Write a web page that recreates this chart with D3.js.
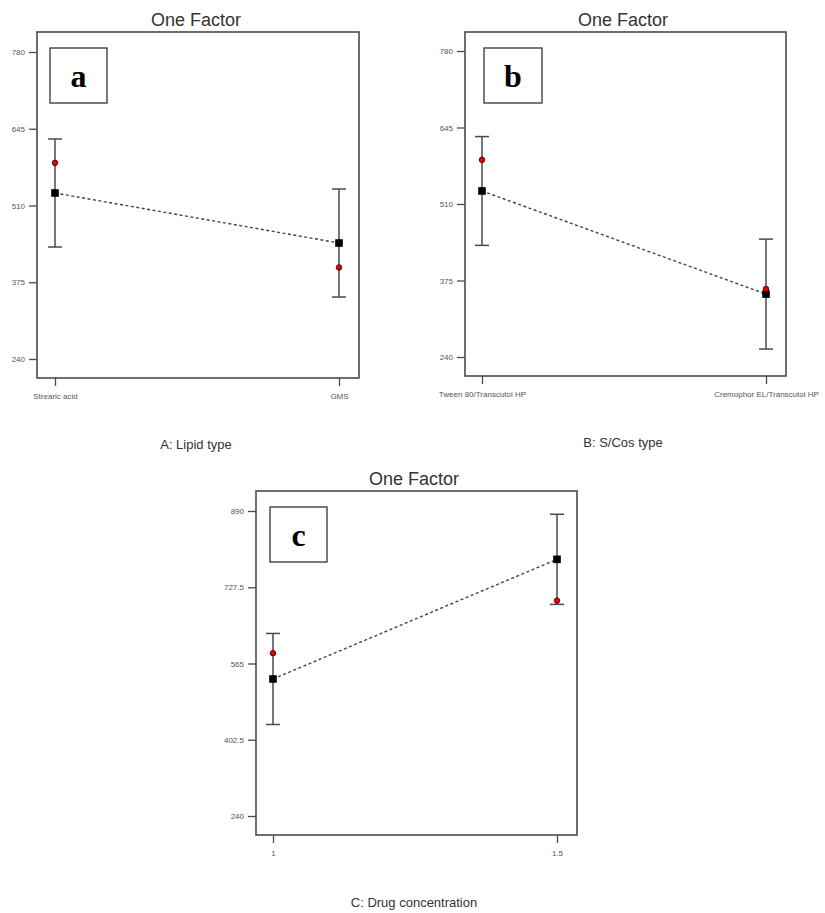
<!DOCTYPE html>
<html>
<head>
<meta charset="utf-8">
<script src="https://cdn.jsdelivr.net/npm/d3@7"></script>
<style>
  html, body { margin: 0; padding: 0; background: #fff; }
  svg { display: block; }
  .tick-label { font-family: "Liberation Sans", Arial, sans-serif; font-size: 8px; fill: #555; }
  .title { font-family: "Liberation Sans", Arial, sans-serif; font-size: 18px; fill: #333; }
  .axis-title { font-family: "Liberation Sans", Arial, sans-serif; font-size: 13px; fill: #333; }
  .panel-letter { font-family: "Liberation Serif", "Times New Roman", serif; font-size: 32px; font-weight: bold; fill: #000; }
</style>
</head>
<body>
<svg id="chart" width="825" height="913"></svg>
<script>
// One-factor effect plots: predicted mean (black square) with LSD bars,
// design point (red dot), for each of the three factors.

const titleText = "One Factor";

// A: Lipid type
const lipidCategories = ["Strearic acid", "GMS"];
const lipidPredicted = [532, 444];
const lipidActual = [585, 401];
const lipidHalfBar = [95, 95];
const lipidTicks = [240, 375, 510, 645, 780];

// B: S/Cos type
const scosCategories = ["Tween 80/Transcutol HP", "Cremophor EL/Transcutol HP"];
const scosPredicted = [533, 351];
const scosActual = [588, 360];
const scosHalfBar = [96, 97];
const scosTicks = [240, 375, 510, 645, 780];

// C: Drug concentration
const drugCategories = ["1", "1.5"];
const drugPredicted = [532, 787];
const drugActual = [587, 699];
const drugHalfBar = [97, 96];
const drugTicks = [240, 402.5, 565, 727.5, 890];

const panels = [
  { letter: "a", axisTitle: "A: Lipid type",
    cats: lipidCategories, pred: lipidPredicted, act: lipidActual, half: lipidHalfBar, ticks: lipidTicks,
    frame: { x0: 37, x1: 359, y0: 32, y1: 378 }, yRange: [359, 52], xRange: [55, 339],
    titleX: 196, titleY: 26, axisTitleY: 449, box: { x: 50, y: 48, w: 57, h: 55 } },
  { letter: "b", axisTitle: "B: S/Cos type",
    cats: scosCategories, pred: scosPredicted, act: scosActual, half: scosHalfBar, ticks: scosTicks,
    frame: { x0: 465, x1: 786, y0: 32, y1: 376 }, yRange: [357, 51], xRange: [482, 766],
    titleX: 623, titleY: 26, axisTitleY: 447, box: { x: 484, y: 48, w: 58, h: 55 } },
  { letter: "c", axisTitle: "C: Drug concentration",
    cats: drugCategories, pred: drugPredicted, act: drugActual, half: drugHalfBar, ticks: drugTicks,
    frame: { x0: 256, x1: 577, y0: 491, y1: 835 }, yRange: [816, 511], xRange: [273, 557],
    titleX: 414, titleY: 485, axisTitleY: 907, box: { x: 270, y: 507, w: 57, h: 55 } }
];

const svg = d3.select("#chart");
const ink = "#4a4a4a";

panels.forEach(p => {
  const g = svg.append("g");
  const y = d3.scaleLinear()
    .domain([p.ticks[0], p.ticks[p.ticks.length - 1]])
    .range(p.yRange);
  const x = d3.scalePoint().domain(p.cats).range(p.xRange);

  // Title
  g.append("text").attr("class", "title")
    .attr("x", p.titleX).attr("y", p.titleY)
    .attr("text-anchor", "middle").text(titleText);

  // Y axis on the frame's left edge
  const yAxis = d3.axisLeft(y).tickValues(p.ticks).tickSize(8).tickPadding(4)
    .tickFormat(d => String(d));
  const ya = g.append("g").attr("transform", `translate(${p.frame.x0},0)`).call(yAxis);
  ya.select(".domain").remove();
  ya.selectAll(".tick line").attr("stroke", ink).attr("stroke-width", 1.3);
  ya.selectAll(".tick text").attr("class", "tick-label").attr("fill", null)
    .attr("font-size", null).attr("font-family", null);

  // X axis below the frame's bottom edge
  const xAxis = d3.axisBottom(x).tickSize(8).tickPadding(6);
  const xa = g.append("g").attr("transform", `translate(0,${p.frame.y1})`).call(xAxis);
  xa.select(".domain").remove();
  xa.selectAll(".tick line").attr("stroke", ink).attr("stroke-width", 1.3);
  xa.selectAll(".tick text").attr("class", "tick-label").attr("fill", null)
    .attr("font-size", null).attr("font-family", null).attr("dy", "0.9em");

  // Frame
  g.append("rect")
    .attr("x", p.frame.x0).attr("y", p.frame.y0)
    .attr("width", p.frame.x1 - p.frame.x0).attr("height", p.frame.y1 - p.frame.y0)
    .attr("fill", "none").attr("stroke", ink).attr("stroke-width", 1.6);

  // Panel letter box
  g.append("rect")
    .attr("x", p.box.x).attr("y", p.box.y).attr("width", p.box.w).attr("height", p.box.h)
    .attr("fill", "#fff").attr("stroke", "#333").attr("stroke-width", 1.3);
  g.append("text").attr("class", "panel-letter")
    .attr("x", p.box.x + p.box.w / 2).attr("y", p.box.y + p.box.h / 2 + 11)
    .attr("text-anchor", "middle").text(p.letter);

  const rows = p.cats.map((c, i) => ({ c, pred: p.pred[i], act: p.act[i], half: p.half[i] }));

  // Dashed line joining the predicted means
  g.append("path")
    .datum(rows)
    .attr("d", d3.line().x(d => x(d.c)).y(d => y(d.pred)))
    .attr("fill", "none").attr("stroke", "#444").attr("stroke-width", 1.4)
    .attr("stroke-dasharray", "3,2.5");

  // Error bars
  const eb = g.selectAll(".eb").data(rows).enter().append("g");
  eb.append("line")
    .attr("x1", d => x(d.c)).attr("x2", d => x(d.c))
    .attr("y1", d => y(d.pred - d.half)).attr("y2", d => y(d.pred + d.half))
    .attr("stroke", ink).attr("stroke-width", 1.5);
  [-1, 1].forEach(s => {
    eb.append("line")
      .attr("x1", d => x(d.c) - 7).attr("x2", d => x(d.c) + 7)
      .attr("y1", d => y(d.pred + s * d.half)).attr("y2", d => y(d.pred + s * d.half))
      .attr("stroke", ink).attr("stroke-width", 1.5);
  });

  // Predicted means
  g.selectAll(".pm").data(rows).enter().append("rect")
    .attr("x", d => x(d.c) - 3.8).attr("y", d => y(d.pred) - 3.8)
    .attr("width", 7.6).attr("height", 7.6).attr("fill", "#000");

  // Design points
  g.selectAll(".dp").data(rows).enter().append("circle")
    .attr("cx", d => x(d.c)).attr("cy", d => y(d.act)).attr("r", 2.8)
    .attr("fill", "#e00000").attr("stroke", "#3a0000").attr("stroke-width", 0.8);

  // Axis title
  g.append("text").attr("class", "axis-title")
    .attr("x", p.titleX).attr("y", p.axisTitleY)
    .attr("text-anchor", "middle").text(p.axisTitle);
});
</script>
</body>
</html>
